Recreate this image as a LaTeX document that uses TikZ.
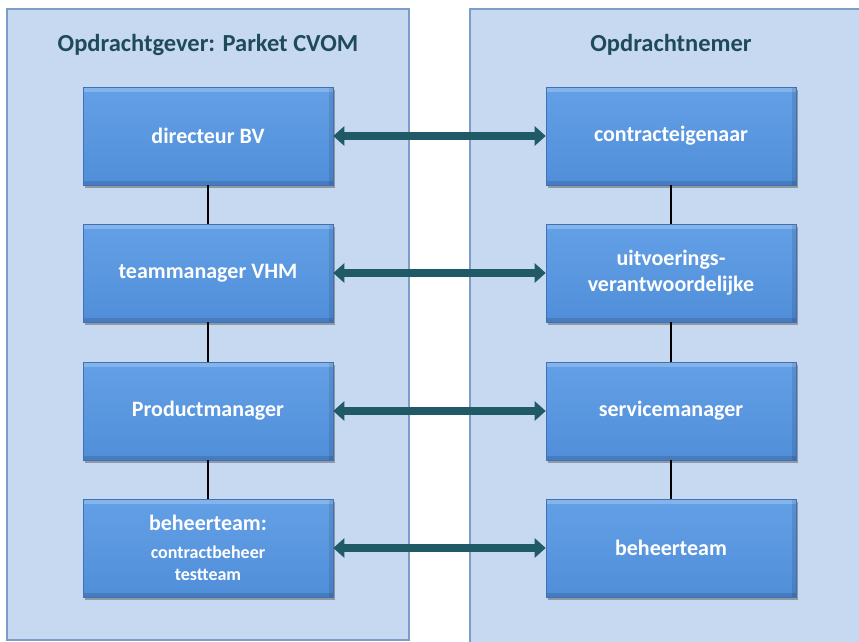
\documentclass[tikz,border=0pt]{standalone}
\usepackage{fontspec}
\setmainfont{Carlito}
\usetikzlibrary{arrows.meta,shadows}
\definecolor{panelfill}{HTML}{C7D9F0}
\definecolor{paneldraw}{HTML}{7C9DC8}
\definecolor{boxtop}{HTML}{63A0E6}
\definecolor{boxbot}{HTML}{508ED9}
\definecolor{boxdraw}{HTML}{3F72B5}
\definecolor{arrowcol}{HTML}{1F5A66}
\definecolor{titlecol}{HTML}{1F4A5C}
\tikzset{
  panel/.style={fill=panelfill,draw=paneldraw,line width=1.5pt},
  orgbox/.style={minimum width=250pt,minimum height=98pt,inner sep=2pt,
    top color=boxtop,bottom color=boxbot,draw=boxdraw,line width=0.6pt,
    drop shadow={shadow xshift=1.5pt,shadow yshift=-2.5pt,opacity=0.45,fill=black!70},
    path picture={
      \fill[white,opacity=0.22] (path picture bounding box.north west) rectangle ([yshift=-5pt]path picture bounding box.north east);
      \fill[black,opacity=0.12] (path picture bounding box.south west) rectangle ([yshift=4pt]path picture bounding box.south east);
      \fill[black,opacity=0.10] (path picture bounding box.north east) rectangle ([xshift=-4pt]path picture bounding box.south east);
    },
    text=white,font=\bfseries\fontsize{22}{26}\selectfont,align=center},
  paneltitle/.style={text=titlecol,font=\bfseries\fontsize{24.5}{29}\selectfont},
  link/.style={draw=arrowcol,line width=7.5pt,{Triangle[length=11pt,width=19pt]}-{Triangle[length=11pt,width=19pt]}},
  tie/.style={draw=black,line width=1.1pt}
}
\begin{document}
\begin{tikzpicture}[x=1pt,y=-1pt]
\useasboundingbox (0,0) rectangle (859,642);
\fill[white] (0,0) rectangle (859,642);
\draw[panel] (7,9) rectangle (409,640);
\draw[panel] (470,9) rectangle (875,650);
\node[paneltitle] (tl) at (208,45) {Opdrachtgever: Parket CVOM};
\node[paneltitle] (tr) at (671,45) {Opdrachtnemer};
\node[orgbox] (l1) at (208,136) {directeur BV};
\node[orgbox] (l2) at (208,273) {teammanager VHM};
\node[orgbox] (l3) at (208,411) {Productmanager};
\node[orgbox] (l4) at (208,548) {beheerteam:\\[2pt]{\fontsize{18}{20}\selectfont contractbeheer}\\[-4pt]{\fontsize{18}{20}\selectfont testteam}};
\node[orgbox] (r1) at (671,136) {contracteigenaar};
\node[orgbox] (r2) at (671,273) {uitvoerings-\\verantwoordelijke};
\node[orgbox] (r3) at (671,411) {servicemanager};
\node[orgbox] (r4) at (671,548) {beheerteam};
\draw[tie] (l1) -- (l2);
\draw[tie] (l2) -- (l3);
\draw[tie] (l3) -- (l4);
\draw[tie] (r1) -- (r2);
\draw[tie] (r2) -- (r3);
\draw[tie] (r3) -- (r4);
\draw[link] (l1) -- (r1);
\draw[link] (l2) -- (r2);
\draw[link] (l3) -- (r3);
\draw[link] (l4) -- (r4);
\end{tikzpicture}
\end{document}
